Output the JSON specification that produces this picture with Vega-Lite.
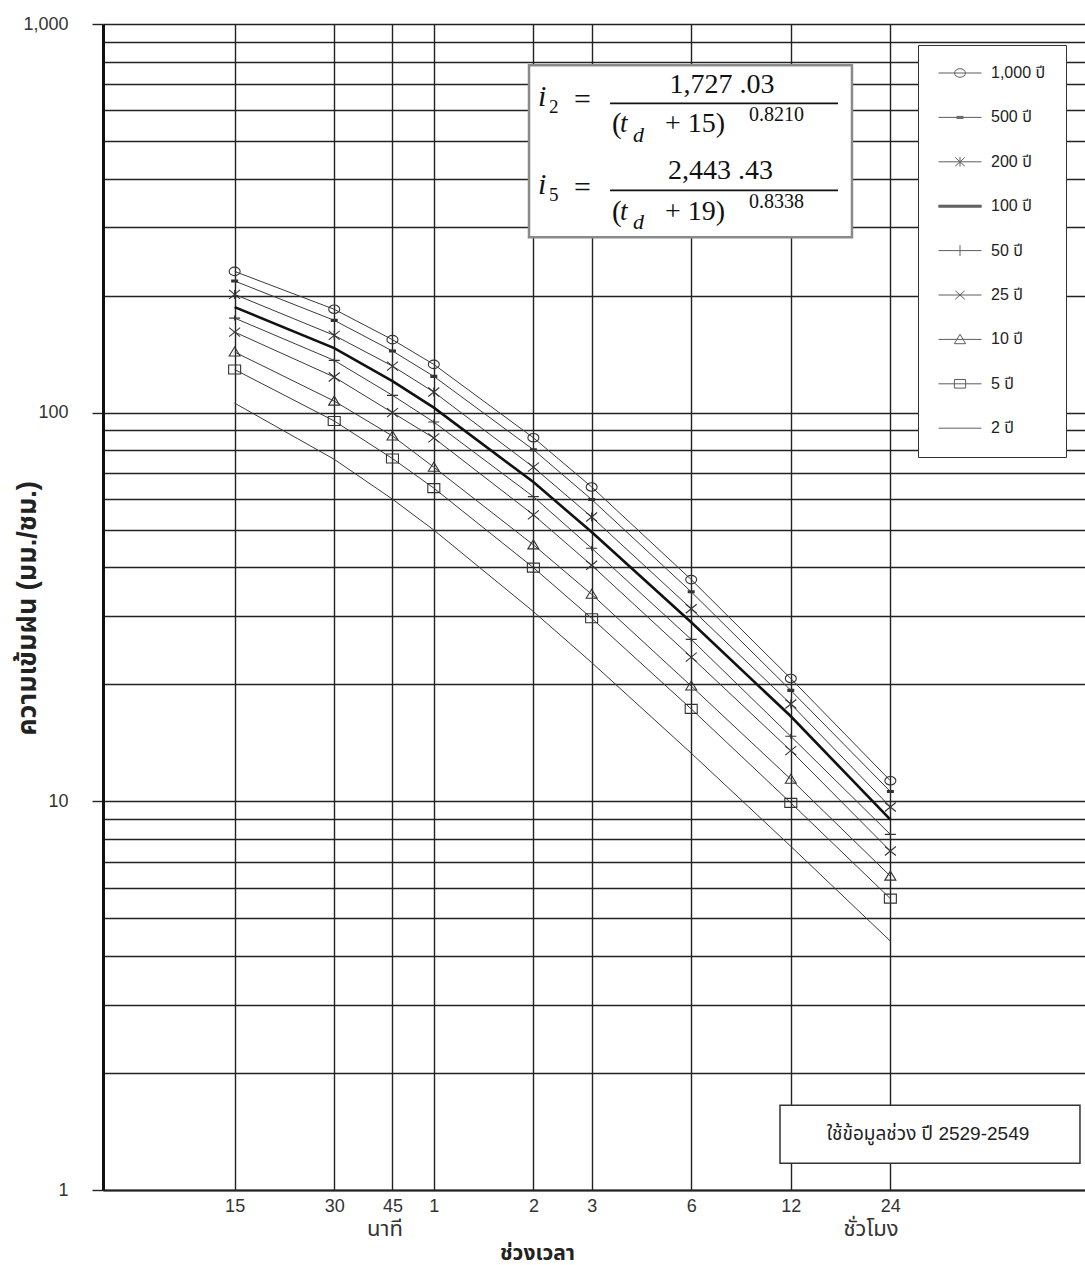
{
  "$schema": "https://vega.github.io/schema/vega-lite/v6.json",
  "width": 982,
  "height": 1166,
  "autosize": {"type": "none"},
  "padding": {"left": 103, "top": 24, "right": 0, "bottom": 75},
  "background": "#ffffff",
  "config": {
    "view": {"stroke": null},
    "font": "Liberation Sans, Noto Sans Thai, sans-serif"
  },
  "datasets": {
    "idf": [
      {"duration": 15, "period": 1000, "intensity": 230.9},
      {"duration": 30, "period": 1000, "intensity": 184.5},
      {"duration": 45, "period": 1000, "intensity": 154.1},
      {"duration": 60, "period": 1000, "intensity": 133.1},
      {"duration": 120, "period": 1000, "intensity": 86.2},
      {"duration": 180, "period": 1000, "intensity": 64.4},
      {"duration": 360, "period": 1000, "intensity": 37.2},
      {"duration": 720, "period": 1000, "intensity": 20.7},
      {"duration": 1440, "period": 1000, "intensity": 11.3},
      {"duration": 15, "period": 500, "intensity": 218.1},
      {"duration": 30, "period": 500, "intensity": 172.8},
      {"duration": 45, "period": 500, "intensity": 144.1},
      {"duration": 60, "period": 500, "intensity": 124.0},
      {"duration": 120, "period": 500, "intensity": 80.3},
      {"duration": 180, "period": 500, "intensity": 59.8},
      {"duration": 360, "period": 500, "intensity": 34.6},
      {"duration": 720, "period": 500, "intensity": 19.3},
      {"duration": 1440, "period": 500, "intensity": 10.6},
      {"duration": 15, "period": 200, "intensity": 201.5},
      {"duration": 30, "period": 200, "intensity": 158.1},
      {"duration": 45, "period": 200, "intensity": 131.8},
      {"duration": 60, "period": 200, "intensity": 113.0},
      {"duration": 120, "period": 200, "intensity": 72.4},
      {"duration": 180, "period": 200, "intensity": 53.9},
      {"duration": 360, "period": 200, "intensity": 31.3},
      {"duration": 720, "period": 200, "intensity": 17.8},
      {"duration": 1440, "period": 200, "intensity": 9.67},
      {"duration": 15, "period": 100, "intensity": 186.9},
      {"duration": 30, "period": 100, "intensity": 146.6},
      {"duration": 45, "period": 100, "intensity": 120.6},
      {"duration": 60, "period": 100, "intensity": 103.0},
      {"duration": 120, "period": 100, "intensity": 66.3},
      {"duration": 180, "period": 100, "intensity": 49.3},
      {"duration": 360, "period": 100, "intensity": 28.9},
      {"duration": 720, "period": 100, "intensity": 16.55},
      {"duration": 1440, "period": 100, "intensity": 8.97},
      {"duration": 15, "period": 50, "intensity": 175.1},
      {"duration": 30, "period": 50, "intensity": 136.3},
      {"duration": 45, "period": 50, "intensity": 110.8},
      {"duration": 60, "period": 50, "intensity": 94.6},
      {"duration": 120, "period": 50, "intensity": 60.8},
      {"duration": 180, "period": 50, "intensity": 44.8},
      {"duration": 360, "period": 50, "intensity": 26.1},
      {"duration": 720, "period": 50, "intensity": 14.7},
      {"duration": 1440, "period": 50, "intensity": 8.22},
      {"duration": 15, "period": 25, "intensity": 161.2},
      {"duration": 30, "period": 25, "intensity": 123.5},
      {"duration": 45, "period": 25, "intensity": 100.0},
      {"duration": 60, "period": 25, "intensity": 86.1},
      {"duration": 120, "period": 25, "intensity": 54.6},
      {"duration": 180, "period": 25, "intensity": 40.5},
      {"duration": 360, "period": 25, "intensity": 23.5},
      {"duration": 720, "period": 25, "intensity": 13.5},
      {"duration": 1440, "period": 25, "intensity": 7.45},
      {"duration": 15, "period": 10, "intensity": 143.2},
      {"duration": 30, "period": 10, "intensity": 107.1},
      {"duration": 45, "period": 10, "intensity": 87.1},
      {"duration": 60, "period": 10, "intensity": 72.4},
      {"duration": 120, "period": 10, "intensity": 45.7},
      {"duration": 180, "period": 10, "intensity": 34.1},
      {"duration": 360, "period": 10, "intensity": 19.8},
      {"duration": 720, "period": 10, "intensity": 11.4},
      {"duration": 1440, "period": 10, "intensity": 6.42},
      {"duration": 15, "period": 5, "intensity": 129.1},
      {"duration": 30, "period": 5, "intensity": 95.2},
      {"duration": 45, "period": 5, "intensity": 76.2},
      {"duration": 60, "period": 5, "intensity": 63.96},
      {"duration": 120, "period": 5, "intensity": 39.93},
      {"duration": 180, "period": 5, "intensity": 29.59},
      {"duration": 360, "period": 5, "intensity": 17.29},
      {"duration": 720, "period": 5, "intensity": 9.91},
      {"duration": 1440, "period": 5, "intensity": 5.62},
      {"duration": 15, "period": 2, "intensity": 105.8},
      {"duration": 30, "period": 2, "intensity": 75.85},
      {"duration": 45, "period": 2, "intensity": 59.9},
      {"duration": 60, "period": 2, "intensity": 49.89},
      {"duration": 120, "period": 2, "intensity": 30.78},
      {"duration": 180, "period": 2, "intensity": 22.76},
      {"duration": 360, "period": 2, "intensity": 13.3},
      {"duration": 720, "period": 2, "intensity": 7.66},
      {"duration": 1440, "period": 2, "intensity": 4.37}
    ]
  },
  "resolve": {"scale": {"shape": "independent"}},
  "layer": [
    {
      "data": {"name": "idf"},
      "transform": [{"filter": "datum.period != 100"}],
      "mark": {"type": "line", "color": "#3a3a3a", "strokeWidth": 1, "clip": true},
      "encoding": {
        "x": {
          "field": "duration", "type": "quantitative",
          "scale": {"type": "log", "domain": [6, 5581], "nice": false},
          "axis": {
            "values": [15, 30, 45, 60, 120, 180, 360, 720, 1440],
            "labelExpr": "datum.value < 60 ? '' + datum.value : '' + (datum.value / 60)",
            "ticks": false,
            "grid": true, "gridColor": "#222222", "gridWidth": 1.4,
            "domainColor": "#222222", "domainWidth": 2,
            "labelFont": "Liberation Sans", "labelFontSize": 18, "labelColor": "#333333",
            "labelPadding": 7, "labelFlush": false, "labelOverlap": false,
            "title": "ช่วงเวลา",
            "titleFont": "Liberation Sans, Noto Sans Thai, sans-serif",
            "titleFontSize": 21, "titleFontWeight": "bold", "titleColor": "#222222",
            "titleX": 434, "titleY": 63, "titleAlign": "center", "titleBaseline": "middle"
          }
        },
        "y": {
          "field": "intensity", "type": "quantitative",
          "scale": {"type": "log", "domain": [1, 1000], "nice": false},
          "axis": {
            "values": [1, 2, 3, 4, 5, 6, 7, 8, 9, 10, 20, 30, 40, 50, 60, 70, 80, 90, 100, 200, 300, 400, 500, 600, 700, 800, 900, 1000],
            "labelExpr": "indexof([1, 10, 100, 1000], datum.value) >= 0 ? format(datum.value, ',') : ''",
            "tickOpacity": {"condition": {"test": "indexof([1, 10, 100, 1000], datum.value) >= 0", "value": 1}, "value": 0},
            "tickSize": 11, "tickColor": "#222222", "tickWidth": 1.4,
            "grid": true, "gridColor": "#222222", "gridWidth": 1.4,
            "domainColor": "#111111", "domainWidth": 3,
            "labelFont": "Liberation Sans", "labelFontSize": 18, "labelColor": "#333333",
            "labelPadding": 24, "labelFlush": false, "labelOverlap": false,
            "title": "ความเข้มฝน (มม./ชม.)",
            "titleFont": "Liberation Sans, Noto Sans Thai, sans-serif",
            "titleFontSize": 27, "titleFontWeight": "bold", "titleColor": "#222222",
            "titleX": -76, "titleY": 584, "titleAngle": -90, "titleAlign": "center", "titleBaseline": "middle"
          }
        },
        "detail": {"field": "period", "type": "nominal"}
      }
    },
    {
      "data": {"name": "idf"},
      "transform": [{"filter": "datum.period == 100"}],
      "mark": {"type": "line", "color": "#111111", "strokeWidth": 2.6, "clip": true},
      "encoding": {
        "x": {"field": "duration", "type": "quantitative"},
        "y": {"field": "intensity", "type": "quantitative"}
      }
    },
    {
      "data": {"name": "idf"},
      "transform": [{"filter": "indexof([100, 2], datum.period) < 0"}],
      "mark": {"type": "point", "filled": false, "color": "#333333", "strokeWidth": 1.1, "size": 100, "opacity": 1},
      "encoding": {
        "x": {"field": "duration", "type": "quantitative"},
        "y": {"field": "intensity", "type": "quantitative"},
        "shape": {
          "field": "period", "type": "nominal", "legend": null,
          "scale": {
            "domain": [1000, 500, 200, 50, 25, 10, 5],
            "range": [
              "M-1.1,0A1.1,0.85 0 1,0 1.1,0A1.1,0.85 0 1,0 -1.1,0",
              "M-0.7,-0.2H0.7M-0.7,0H0.7M-0.7,0.2H0.7",
              "M-1.1,-0.9L1.1,0.9M-1.1,0.9L1.1,-0.9M0,-0.9V0.9",
              "M-1.1,0H1.1M0,-0.5V0.5",
              "M-1.1,-0.9L1.1,0.9M-1.1,0.9L1.1,-0.9",
              "M-1.1,0.8L0,-1L1.1,0.8Z",
              "M-1.2,-0.9H1.2V0.9H-1.2Z"
            ]
          }
        }
      }
    },
    {
      "data": {"name": "idf"},
      "transform": [{"filter": "datum.duration == 15"}],
      "mark": {"type": "point", "filled": false, "color": "#222222", "strokeWidth": 1, "clip": true},
      "encoding": {
        "x": {"field": "duration", "type": "quantitative"},
        "y": {"datum": 0.5, "type": "quantitative"},
        "shape": {
          "field": "period", "type": "ordinal",
          "scale": {
            "domain": [1000, 500, 200, 100, 50, 25, 10, 5, 2],
            "range": [
              "M-4.3,0H4.3M-1.08,0A1.08,0.86 0 1,0 1.08,0A1.08,0.86 0 1,0 -1.08,0",
              "M-4.3,0H4.3M-0.7,-0.2H0.7M-0.7,0.2H0.7",
              "M-4.3,0H4.3M-0.95,-0.86L0.95,0.86M-0.95,0.86L0.95,-0.86M0,-0.95V0.95",
              "M-4.3,-0.2H4.3M-4.3,-0.1H4.3M-4.3,0H4.3M-4.3,0.1H4.3M-4.3,0.2H4.3",
              "M-4.3,0H4.3M0,-1.1V1.1",
              "M-4.3,0H4.3M-0.95,-0.86L0.95,0.86M-0.95,0.86L0.95,-0.86",
              "M-4.3,0H4.3M-1.12,0.86L0,-1.03L1.12,0.86Z",
              "M-4.3,0H4.3M-1.12,-0.86H1.12V0.86H-1.12Z",
              "M-4.3,0H4.3"
            ]
          },
          "legend": {
            "orient": "none", "legendX": 815, "legendY": 21,
            "title": null, "padding": 20, "rowPadding": 28.4,
            "symbolSize": 100, "symbolOffset": 14, "labelOffset": 23,
            "strokeColor": "#333333", "fillColor": "#ffffff",
            "labelFont": "Liberation Sans, Noto Sans Thai, sans-serif", "labelFontSize": 16, "labelColor": "#222222",
            "symbolStrokeWidth": 1, "symbolStrokeColor": "#1a1a1a", "symbolFillColor": "transparent",
            "labelExpr": "format(datum.value, ',') + ' ปี'"
          }
        }
      }
    },
    {
      "data": {"values": [{}]},
      "mark": {"type": "rect", "fill": "#ffffff", "stroke": "#8a8a8a", "strokeWidth": 2.5},
      "encoding": {
        "x": {"datum": 116.4, "type": "quantitative"},
        "x2": {"datum": 1102.3},
        "y": {"datum": 782.7, "type": "quantitative"},
        "y2": {"datum": 282.5}
      }
    },
    {"data": {"values": [{}]}, "mark": {"type": "text", "text": "i", "font": "Liberation Serif", "fontStyle": "italic", "fontSize": 30, "align": "left", "baseline": "middle", "color": "#111111"},
     "encoding": {"x": {"datum": 123.9, "type": "quantitative"}, "y": {"datum": 647.4, "type": "quantitative"}}},
    {"data": {"values": [{}]}, "mark": {"type": "text", "text": "2", "font": "Liberation Serif", "fontSize": 19, "align": "left", "baseline": "middle", "color": "#111111"},
     "encoding": {"x": {"datum": 133.8, "type": "quantitative"}, "y": {"datum": 610.1, "type": "quantitative"}}},
    {"data": {"values": [{}]}, "mark": {"type": "text", "text": "=", "font": "Liberation Serif", "fontSize": 30, "align": "left", "baseline": "middle", "color": "#111111"},
     "encoding": {"x": {"datum": 159.2, "type": "quantitative"}, "y": {"datum": 636, "type": "quantitative"}}},
    {"data": {"values": [{}]}, "mark": {"type": "text", "text": "1,727 .03", "font": "Liberation Serif", "fontSize": 28, "align": "center", "baseline": "middle", "color": "#111111"},
     "encoding": {"x": {"datum": 446, "type": "quantitative"}, "y": {"datum": 695, "type": "quantitative"}}},
    {"data": {"values": [{}]}, "mark": {"type": "rule", "color": "#111111", "strokeWidth": 1.8},
     "encoding": {"x": {"datum": 204.6, "type": "quantitative"}, "x2": {"datum": 1000.1}, "y": {"datum": 624.8, "type": "quantitative"}}},
    {"data": {"values": [{}]}, "mark": {"type": "text", "text": "(", "font": "Liberation Serif", "fontSize": 29, "align": "left", "baseline": "middle", "color": "#111111"},
     "encoding": {"x": {"datum": 207.5, "type": "quantitative"}, "y": {"datum": 551.6, "type": "quantitative"}}},
    {"data": {"values": [{}]}, "mark": {"type": "text", "text": "t", "font": "Liberation Serif", "fontStyle": "italic", "fontSize": 27, "align": "left", "baseline": "middle", "color": "#111111"},
     "encoding": {"x": {"datum": 219.4, "type": "quantitative"}, "y": {"datum": 551.6, "type": "quantitative"}}},
    {"data": {"values": [{}]}, "mark": {"type": "text", "text": "d", "font": "Liberation Serif", "fontStyle": "italic", "fontSize": 22, "align": "left", "baseline": "middle", "color": "#111111"},
     "encoding": {"x": {"datum": 240.1, "type": "quantitative"}, "y": {"datum": 516.9, "type": "quantitative"}}},
    {"data": {"values": [{}]}, "mark": {"type": "text", "text": "+ 15)", "font": "Liberation Serif", "fontSize": 28, "align": "left", "baseline": "middle", "color": "#111111"},
     "encoding": {"x": {"datum": 300, "type": "quantitative"}, "y": {"datum": 551.6, "type": "quantitative"}}},
    {"data": {"values": [{}]}, "mark": {"type": "text", "text": "0.8210", "font": "Liberation Serif", "fontSize": 20, "align": "left", "baseline": "middle", "color": "#111111"},
     "encoding": {"x": {"datum": 538.3, "type": "quantitative"}, "y": {"datum": 582, "type": "quantitative"}}},
    {"data": {"values": [{}]}, "mark": {"type": "text", "text": "i", "font": "Liberation Serif", "fontStyle": "italic", "fontSize": 30, "align": "left", "baseline": "middle", "color": "#111111"},
     "encoding": {"x": {"datum": 123.9, "type": "quantitative"}, "y": {"datum": 384.3, "type": "quantitative"}}},
    {"data": {"values": [{}]}, "mark": {"type": "text", "text": "5", "font": "Liberation Serif", "fontSize": 19, "align": "left", "baseline": "middle", "color": "#111111"},
     "encoding": {"x": {"datum": 133.8, "type": "quantitative"}, "y": {"datum": 362.3, "type": "quantitative"}}},
    {"data": {"values": [{}]}, "mark": {"type": "text", "text": "=", "font": "Liberation Serif", "fontSize": 30, "align": "left", "baseline": "middle", "color": "#111111"},
     "encoding": {"x": {"datum": 159.2, "type": "quantitative"}, "y": {"datum": 377.6, "type": "quantitative"}}},
    {"data": {"values": [{}]}, "mark": {"type": "text", "text": "2,443 .43", "font": "Liberation Serif", "fontSize": 28, "align": "center", "baseline": "middle", "color": "#111111"},
     "encoding": {"x": {"datum": 441.4, "type": "quantitative"}, "y": {"datum": 417.7, "type": "quantitative"}}},
    {"data": {"values": [{}]}, "mark": {"type": "rule", "color": "#111111", "strokeWidth": 1.8},
     "encoding": {"x": {"datum": 204.6, "type": "quantitative"}, "x2": {"datum": 1000.1}, "y": {"datum": 373.2, "type": "quantitative"}}},
    {"data": {"values": [{}]}, "mark": {"type": "text", "text": "(", "font": "Liberation Serif", "fontSize": 29, "align": "left", "baseline": "middle", "color": "#111111"},
     "encoding": {"x": {"datum": 207.5, "type": "quantitative"}, "y": {"datum": 327.6, "type": "quantitative"}}},
    {"data": {"values": [{}]}, "mark": {"type": "text", "text": "t", "font": "Liberation Serif", "fontStyle": "italic", "fontSize": 27, "align": "left", "baseline": "middle", "color": "#111111"},
     "encoding": {"x": {"datum": 219.4, "type": "quantitative"}, "y": {"datum": 327.6, "type": "quantitative"}}},
    {"data": {"values": [{}]}, "mark": {"type": "text", "text": "d", "font": "Liberation Serif", "fontStyle": "italic", "fontSize": 22, "align": "left", "baseline": "middle", "color": "#111111"},
     "encoding": {"x": {"datum": 240.1, "type": "quantitative"}, "y": {"datum": 308.7, "type": "quantitative"}}},
    {"data": {"values": [{}]}, "mark": {"type": "text", "text": "+ 19)", "font": "Liberation Serif", "fontSize": 28, "align": "left", "baseline": "middle", "color": "#111111"},
     "encoding": {"x": {"datum": 300, "type": "quantitative"}, "y": {"datum": 327.6, "type": "quantitative"}}},
    {"data": {"values": [{}]}, "mark": {"type": "text", "text": "0.8338", "font": "Liberation Serif", "fontSize": 20, "align": "left", "baseline": "middle", "color": "#111111"},
     "encoding": {"x": {"datum": 538.3, "type": "quantitative"}, "y": {"datum": 347.5, "type": "quantitative"}}},
    {
      "data": {"values": [{}]},
      "mark": {"type": "rect", "fill": "#ffffff", "stroke": "#333333", "strokeWidth": 1.5},
      "encoding": {
        "x": {"datum": 667.9, "type": "quantitative"},
        "x2": {"datum": 5389},
        "y": {"datum": 1.652, "type": "quantitative"},
        "y2": {"datum": 1.171}
      }
    },
    {"data": {"values": [{}]}, "mark": {"type": "text", "text": "ใช้ข้อมูลช่วง ปี 2529-2549", "font": "Liberation Sans, Noto Sans Thai, sans-serif", "fontSize": 19, "align": "center", "baseline": "middle", "color": "#222222"},
     "encoding": {"x": {"datum": 1871.6, "type": "quantitative"}, "y": {"datum": 1.391, "type": "quantitative"}}},
    {"data": {"values": [{}]}, "mark": {"type": "text", "text": "นาที", "font": "Liberation Sans, Noto Sans Thai, sans-serif", "fontSize": 22, "align": "center", "baseline": "middle", "color": "#333333"},
     "encoding": {"x": {"datum": 42.7, "type": "quantitative"}, "y": {"datum": 0.7924, "type": "quantitative"}}},
    {"data": {"values": [{}]}, "mark": {"type": "text", "text": "ชั่วโมง", "font": "Liberation Sans, Noto Sans Thai, sans-serif", "fontSize": 22, "align": "center", "baseline": "middle", "color": "#333333"},
     "encoding": {"x": {"datum": 1258.5, "type": "quantitative"}, "y": {"datum": 0.7924, "type": "quantitative"}}}
  ]
}
